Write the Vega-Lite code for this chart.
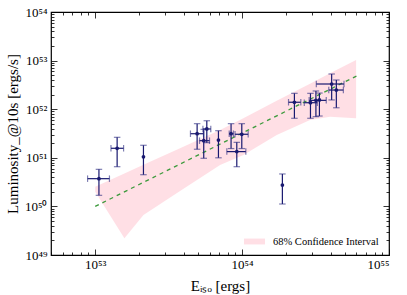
{
  "$schema": "https://vega.github.io/schema/vega-lite/v6.json",
  "width": 338,
  "height": 243,
  "autosize": {"type": "none"},
  "padding": {"left": 51, "top": 12, "right": 18, "bottom": 40},
  "background": "white",
  "config": {
    "view": {"stroke": "black", "strokeWidth": 1.2},
    "font": "Liberation Serif",
    "legend": {"labelFont": "Liberation Serif"},
    "axis": {
      "domain": false,
      "grid": false,
      "tickColor": "black",
      "tickWidth": 0.8,
      "labelFont": "Liberation Serif",
      "labelFontSize": 13,
      "labelColor": "black",
      "labelOverlap": false,
      "titleFont": "Liberation Serif",
      "titleFontSize": 14,
      "titleFontWeight": "normal",
      "titleColor": "black"
    }
  },
  "datasets": {
    "pts": [
      {"x": 1.06e53, "xlo": 8.87e52, "xhi": 1.25e53, "y": 3.72e50, "ylo": 1.69e50, "yhi": 5.79e50},
      {"x": 1.41e53, "xlo": 1.28e53, "xhi": 1.56e53, "y": 1.57e51, "ylo": 6.56e50, "yhi": 2.64e51},
      {"x": 2.13e53, "xlo": null, "xhi": null, "y": 1.05e51, "ylo": 4.49e50, "yhi": 1.81e51},
      {"x": 4.94e53, "xlo": 4.45e53, "xhi": 5.46e53, "y": 3.13e51, "ylo": 1.50e51, "yhi": 5.04e51},
      {"x": 5.75e53, "xlo": 5.41e53, "xhi": 6.12e53, "y": 3.92e51, "ylo": 2.05e51, "yhi": 5.79e51},
      {"x": 5.48e53, "xlo": 5.13e53, "xhi": 6.00e53, "y": 2.25e51, "ylo": 9.77e50, "yhi": 3.85e51},
      {"x": 6.90e53, "xlo": null, "xhi": null, "y": 2.32e51, "ylo": 1.00e51, "yhi": 3.61e51},
      {"x": 8.41e53, "xlo": 8.17e53, "xhi": 8.73e53, "y": 3.13e51, "ylo": 1.55e51, "yhi": 5.04e51},
      {"x": 9.95e53, "xlo": 8.95e53, "xhi": 1.10e54, "y": 3.05e51, "ylo": 1.55e51, "yhi": 5.04e51},
      {"x": 9.20e53, "xlo": 7.87e53, "xhi": 1.06e54, "y": 1.34e51, "ylo": 6.56e50, "yhi": 2.08e51},
      {"x": 1.88e54, "xlo": null, "xhi": null, "y": 2.75e50, "ylo": 1.12e50, "yhi": 4.65e50},
      {"x": 2.27e54, "xlo": 2.07e54, "xhi": 2.51e54, "y": 1.39e52, "ylo": 6.50e51, "yhi": 2.12e52},
      {"x": 2.92e54, "xlo": 2.65e54, "xhi": 3.25e54, "y": 1.36e52, "ylo": 6.50e51, "yhi": 2.12e52},
      {"x": 3.18e54, "xlo": 2.86e54, "xhi": 3.74e54, "y": 1.52e52, "ylo": 7.02e51, "yhi": 2.37e52},
      {"x": 3.36e54, "xlo": null, "xhi": null, "y": 1.55e52, "ylo": 7.24e51, "yhi": 2.15e52},
      {"x": 4.07e54, "xlo": 3.20e54, "xhi": 4.94e54, "y": 3.30e52, "ylo": 1.55e52, "yhi": 5.30e52},
      {"x": 4.38e54, "xlo": 3.89e54, "xhi": 4.89e54, "y": 2.48e52, "ylo": 1.07e52, "yhi": 3.99e52}
    ],
    "band": [
      {"x": 1.00e53, "lo": 2.00e50, "hi": 2.54e50},
      {"x": 1.58e53, "lo": 2.21e49, "hi": 4.77e50},
      {"x": 2.13e53, "lo": 6.65e49, "hi": 7.18e50},
      {"x": 3.78e53, "lo": 2.07e50, "hi": 1.58e51},
      {"x": 7.08e53, "lo": 7.11e50, "hi": 3.73e51},
      {"x": 1.02e54, "lo": 1.14e51, "hi": 6.53e51},
      {"x": 1.72e54, "lo": 2.94e51, "hi": 1.49e52},
      {"x": 2.90e54, "lo": 6.00e51, "hi": 3.35e52},
      {"x": 3.97e54, "lo": 7.02e51, "hi": 5.46e52},
      {"x": 5.97e54, "lo": 6.50e51, "hi": 1.03e53}
    ],
    "fit": [
      {"x": 1.0e53, "y": 1.0e50},
      {"x": 6.0e54, "y": 4.8e52}
    ]
  },
  "resolve": {"axis": {"x": "independent", "y": "independent"}},
  "layer": [
    {
      "data": {"name": "band"},
      "mark": {"type": "area", "opacity": 0.5},
      "encoding": {
        "x": {
          "field": "x", "type": "quantitative",
          "scale": {"type": "log", "domain": [5e52, 1e55], "nice": false},
          "axis": {
            "orient": "bottom",
            "title": "Eᵢₛₒ [ergs]",
            "titleFontSize": 15,
            "titlePadding": 4,
            "values": [5e52,6e52,7e52,8e52,9e52,1e53,2e53,3e53,4e53,5e53,6e53,7e53,8e53,9e53,1e54,2e54,3e54,4e54,5e54,6e54,7e54,8e54,9e54,1e55],
            "tickSize": {"condition": {"test": "indexof([1e53,1e54,1e55], datum.value) >= 0", "value": -6}, "value": -3},
            "labelPadding": 9,
            "labelExpr": "datum.value == 1e53 ? '10⁵³' : datum.value == 1e54 ? '10⁵⁴' : datum.value == 1e55 ? '10⁵⁵' : ''"
          }
        },
        "y": {
          "field": "lo", "type": "quantitative",
          "scale": {"type": "log", "domain": [1e49, 1e54], "nice": false},
          "axis": {
            "orient": "left",
            "title": "Luminosity_@10s [ergs/s]",
            "titleFontSize": 15,
            "titlePadding": 4,
            "values": [1e49,2e49,3e49,4e49,5e49,6e49,7e49,8e49,9e49,1e50,2e50,3e50,4e50,5e50,6e50,7e50,8e50,9e50,1e51,2e51,3e51,4e51,5e51,6e51,7e51,8e51,9e51,1e52,2e52,3e52,4e52,5e52,6e52,7e52,8e52,9e52,1e53,2e53,3e53,4e53,5e53,6e53,7e53,8e53,9e53,1e54],
            "tickSize": {"condition": {"test": "indexof([1e49,1e50,1e51,1e52,1e53,1e54], datum.value) >= 0", "value": -6}, "value": -3},
            "labelPadding": 10,
            "labelExpr": "datum.value == 1e49 ? '10⁴⁹' : datum.value == 1e50 ? '10⁵⁰' : datum.value == 1e51 ? '10⁵¹' : datum.value == 1e52 ? '10⁵²' : datum.value == 1e53 ? '10⁵³' : datum.value == 1e54 ? '10⁵⁴' : ''"
          }
        },
        "y2": {"field": "hi"},
        "color": {
          "datum": "68% Confidence Interval",
          "type": "nominal",
          "scale": {"range": ["pink"]},
          "legend": {
            "title": null,
            "orient": "none",
            "legendX": 189,
            "legendY": 215,
            "padding": 4,
            "symbolType": "M-1,-0.28H1V0.28H-1Z",
            "symbolSize": 441,
            "symbolOpacity": 0.5,
            "symbolStrokeWidth": 0,
            "labelFont": "Liberation Serif",
            "labelFontSize": 10.5,
            "labelColor": "black",
            "labelOffset": 8
          }
        }
      }
    },
    {
      "data": {"name": "fit"},
      "mark": {"type": "line", "color": "#3c9a3c", "strokeWidth": 1.3, "strokeDash": [4, 4]},
      "encoding": {
        "x": {
          "field": "x", "type": "quantitative",
          "axis": {
            "orient": "top", "title": null, "labels": false,
            "values": [5e52,6e52,7e52,8e52,9e52,1e53,2e53,3e53,4e53,5e53,6e53,7e53,8e53,9e53,1e54,2e54,3e54,4e54,5e54,6e54,7e54,8e54,9e54,1e55],
            "tickSize": {"condition": {"test": "indexof([1e53,1e54,1e55], datum.value) >= 0", "value": -6}, "value": -3}
          }
        },
        "y": {
          "field": "y", "type": "quantitative",
          "axis": {
            "orient": "right", "title": null, "labels": false,
            "values": [1e49,2e49,3e49,4e49,5e49,6e49,7e49,8e49,9e49,1e50,2e50,3e50,4e50,5e50,6e50,7e50,8e50,9e50,1e51,2e51,3e51,4e51,5e51,6e51,7e51,8e51,9e51,1e52,2e52,3e52,4e52,5e52,6e52,7e52,8e52,9e52,1e53,2e53,3e53,4e53,5e53,6e53,7e53,8e53,9e53,1e54],
            "tickSize": {"condition": {"test": "indexof([1e49,1e50,1e51,1e52,1e53,1e54], datum.value) >= 0", "value": -6}, "value": -3}
          }
        }
      }
    },
    {
      "data": {"name": "pts"},
      "mark": {"type": "rule", "color": "#191970", "strokeWidth": 1.2},
      "encoding": {
        "x": {"field": "x", "type": "quantitative", "axis": null},
        "y": {"field": "ylo", "type": "quantitative", "axis": null},
        "y2": {"field": "yhi"}
      }
    },
    {
      "data": {"name": "pts"},
      "transform": [{"filter": "datum.xlo != null"}],
      "mark": {"type": "rule", "color": "#191970", "strokeWidth": 1.2},
      "encoding": {
        "x": {"field": "xlo", "type": "quantitative", "axis": null},
        "x2": {"field": "xhi"},
        "y": {"field": "y", "type": "quantitative", "axis": null}
      }
    },
    {
      "data": {"name": "pts"},
      "transform": [{"fold": ["ylo", "yhi"], "as": ["k", "cap"]}],
      "mark": {"type": "tick", "orient": "horizontal", "color": "#2a2a80", "opacity": 0.6, "size": 6.5, "thickness": 1.2},
      "encoding": {
        "x": {"field": "x", "type": "quantitative", "axis": null},
        "y": {"field": "cap", "type": "quantitative", "axis": null}
      }
    },
    {
      "data": {"name": "pts"},
      "transform": [{"filter": "datum.xlo != null"}, {"fold": ["xlo", "xhi"], "as": ["k", "cap"]}],
      "mark": {"type": "tick", "orient": "vertical", "color": "#2a2a80", "opacity": 0.6, "size": 6.5, "thickness": 1.2},
      "encoding": {
        "x": {"field": "cap", "type": "quantitative", "axis": null},
        "y": {"field": "y", "type": "quantitative", "axis": null}
      }
    },
    {
      "data": {"name": "pts"},
      "mark": {"type": "point", "filled": true, "shape": "circle", "color": "#191970", "size": 14, "opacity": 1},
      "encoding": {
        "x": {"field": "x", "type": "quantitative", "axis": null},
        "y": {"field": "y", "type": "quantitative", "axis": null}
      }
    }
  ]
}
